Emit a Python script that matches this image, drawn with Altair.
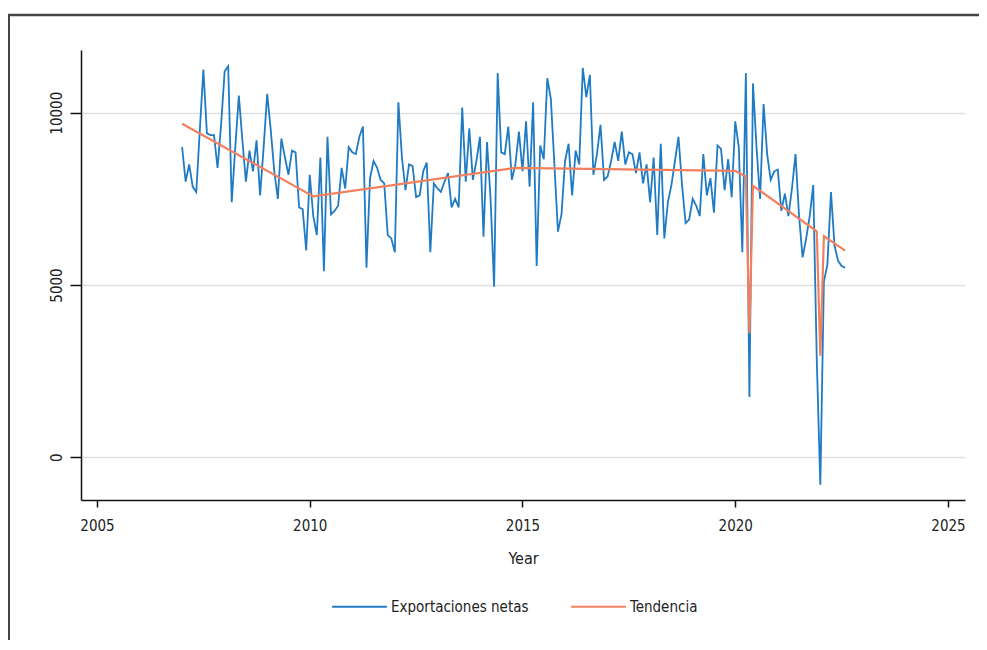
import altair as alt
import pandas as pd

# ---------------- data ----------------
start_year = 2007  # first monthly observation: 2007m1

exports = [
    9000, 8000, 8500, 7850, 7700, 9500, 11250, 9400, 9350, 9350, 8400, 9650,
    11200, 11350, 7400, 9000, 10500, 9200, 8000, 8900, 8300, 9200, 7600, 9000,
    10550, 9500, 8300, 7500, 9250, 8700, 8200, 8900, 8850, 7250, 7200, 6000,
    8200, 7000, 6450, 8700, 5400, 9300, 7050, 7150, 7300, 8400, 7800, 9000,
    8850, 8800, 9300, 9600, 5500, 8100, 8600, 8400, 8050, 7950, 6450, 6350,
    5950, 10300, 8700, 7750, 8500, 8450, 7550, 7600, 8300, 8550, 5950, 7950,
    7800, 7700, 8000, 8250, 7250, 7500, 7250, 10150, 8000, 9550, 8050, 8600,
    9300, 6400, 9150, 7500, 4950, 11150, 8850, 8800, 9600, 8050, 8500, 9450,
    8300, 9750, 7850, 10300, 5550, 9050, 8650, 11000, 10400, 8500, 6550, 7050,
    8600, 9100, 7600, 8900, 8500, 11300, 10450, 11100, 8200, 8800, 9650, 8050,
    8150, 8600, 9150, 8600, 9450, 8500, 8850, 8800, 8250, 8850, 7950, 8500,
    7400, 8700, 6450, 9100, 6350, 7400, 7900, 8600, 9300, 7900, 6800, 6900,
    7500, 7300, 7000, 8800, 7600, 8100, 7100, 9050, 8950, 7750, 8650, 7550,
    9750, 9000, 5950, 11150, 1750, 10850, 9000, 7500, 10250, 8800, 8050, 8300,
    8350, 7150, 7650, 7000, 7800, 8800, 7000, 5800, 6350, 7000, 7900, 2800,
    -800, 5100, 5600, 7700, 6150, 5700, 5550, 5500,
]

# trend: month index of each vertex and its value
trend_idx = [0, 37, 94, 156, 159, 160, 161, 179, 180, 181, 187]
trend_vals = [9680, 7570, 8400, 8310, 8150, 3600, 7880, 6560, 2950, 6420, 6000]

series_names = ["Exportaciones netas", "Tendencia"]
series_colors = ["#1f7bc3", "#f2805e"]
x_ticks = [2005, 2010, 2015, 2020, 2025]
y_ticks = [0, 5000, 10000]

# ---------------- tables ----------------
df_exp = pd.DataFrame({
    "year": [start_year + i / 12 for i in range(len(exports))],
    "value": exports,
    "serie": series_names[0],
})
df_tr = pd.DataFrame({
    "year": [start_year + i / 12 for i in trend_idx],
    "value": trend_vals,
    "serie": series_names[1],
})

FONT = "Liberation Sans Narrow, DejaVu Sans Condensed, sans-serif"

x_enc = alt.X(
    "year:Q",
    scale=alt.Scale(domain=[2004.624, 2025.4], nice=False, zero=False),
    axis=alt.Axis(
        values=x_ticks, format="d", title="Year", grid=False,
        tickSize=7, tickWidth=1.5, tickColor="#111",
        domainColor="#111", domainWidth=1.5,
        labelFont=FONT, labelFontSize=15, labelColor="#222", labelPadding=11,
        titleFont=FONT, titleFontSize=16, titleFontWeight="normal",
        titleColor="#222", titlePadding=17,
    ),
)
y_enc = alt.Y(
    "value:Q",
    scale=alt.Scale(domain=[-1240, 11820], nice=False, zero=False),
    axis=alt.Axis(
        values=y_ticks, format="d", title=None, grid=True,
        gridColor="#e0e0e0", gridWidth=1.5,
        tickSize=11, tickWidth=1.5, tickColor="#111",
        domainColor="#111", domainWidth=1.5,
        labelAngle=270, labelAlign="center", labelBaseline="bottom",
        labelFont=FONT, labelFontSize=15, labelColor="#222", labelPadding=6,
    ),
)
color_enc = alt.Color(
    "serie:N",
    scale=alt.Scale(domain=series_names, range=series_colors),
    legend=alt.Legend(
        orient="none", legendX=250, legendY=528, direction="horizontal",
        title=None, symbolType="stroke", symbolSize=3000, symbolStrokeWidth=2,
        labelFont=FONT, labelFontSize=15, labelColor="#222",
        labelOffset=3, columnPadding=38,
    ),
)

line_exp = alt.Chart(df_exp).mark_line(strokeWidth=1.8).encode(
    x=x_enc, y=y_enc, color=color_enc
)
line_tr = alt.Chart(df_tr).mark_line(strokeWidth=2.2).encode(
    x="year:Q", y="value:Q", color=color_enc
)

# outer frame of the original figure (top and left edges)
one = pd.DataFrame({"k": [0]})
frame_top = alt.Chart(one).mark_rule(color="#444", strokeWidth=2.5).encode(
    x=alt.value(-73), x2=alt.value(940), y=alt.value(-35)
)
frame_left = alt.Chart(one).mark_rule(color="#444", strokeWidth=2).encode(
    x=alt.value(-72), y=alt.value(-35), y2=alt.value(600)
)

chart = alt.layer(line_exp, line_tr, frame_top, frame_left).properties(
    width=884, height=450,
    autosize=alt.AutoSizeParams(type="none"),
    padding={"left": 73, "top": 42, "right": 14, "bottom": 140},
    background="white",
).configure_view(stroke=None)

chart.save("out.html", embed_options={"renderer": "svg", "actions": False})
